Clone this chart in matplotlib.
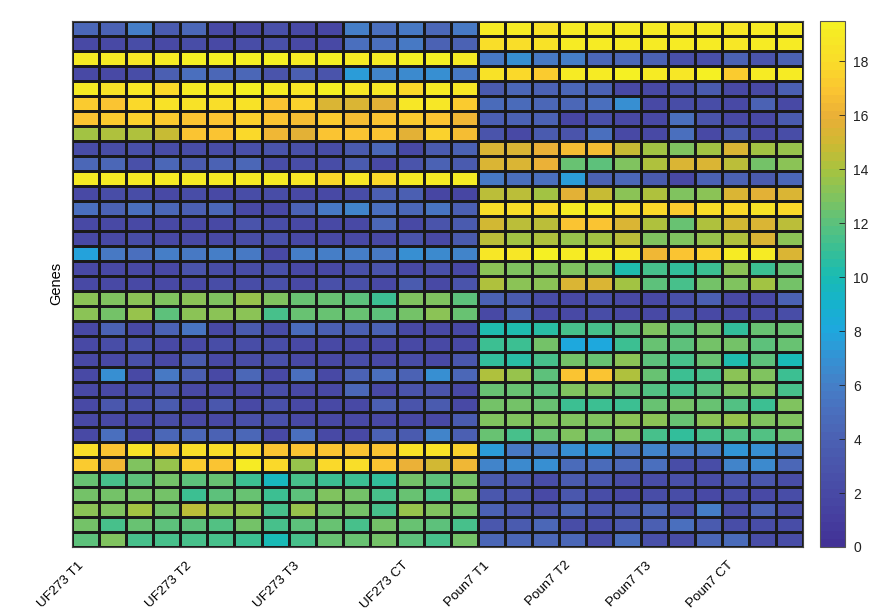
import numpy as np
import matplotlib
matplotlib.use("Agg")
import matplotlib.pyplot as plt
from matplotlib.colors import LinearSegmentedColormap

plt.rcParams['font.family'] = ['Liberation Sans', 'DejaVu Sans']

# expression values, one list per gene (top to bottom)
uf273 = [
  [4.5, 4.2, 6, 3.5, 4.5, 2, 2, 2.5, 2, 1.8, 5.8, 5, 5.5, 4.3, 5.5],
  [2, 2, 2.2, 2, 2.2, 2, 2.2, 2.5, 2, 2, 5, 5, 5.5, 4, 4.2],
  [19, 19, 18.7, 19, 19.2, 19.2, 19.2, 19.2, 19, 19.2, 19, 19, 19.2, 19.2, 19],
  [2, 2, 2.2, 3.8, 5, 4.3, 4.3, 3, 3.8, 3, 7.5, 6.2, 6.5, 6.8, 5.5],
  [19, 18.5, 18.8, 17.8, 19, 19, 19.2, 19, 18.8, 19.2, 18.8, 18.8, 17.8, 19, 18.8],
  [17.2, 16.8, 17.8, 18.5, 18.3, 18, 18.3, 16.8, 17.5, 15.5, 15.5, 15.8, 18.8, 18.8, 17.2],
  [17, 17.2, 17.5, 17.2, 17, 17, 17.5, 16.8, 16.5, 17.2, 16.5, 17, 17.3, 16.8, 16.3],
  [14, 14.3, 14.3, 14.8, 17, 16.8, 17.8, 16.2, 15.8, 16.8, 16.8, 16.8, 15.6, 17.5, 16.7],
  [2.2, 2.2, 2.5, 2.2, 2.2, 2.2, 2.5, 3, 2.5, 2.2, 3.5, 4.5, 2, 3.5, 4],
  [4.5, 4.5, 2.5, 4.5, 3.5, 4, 4.5, 2.2, 2.2, 2.2, 3.5, 2, 3, 4, 3.5],
  [19, 19, 19, 19, 19, 19, 19, 19, 18.7, 17.8, 18.8, 17.8, 19, 19, 19],
  [2, 2.2, 2.3, 2, 2.2, 2, 2.3, 2.3, 2, 2, 2.3, 3.8, 3.8, 1.8, 1.8],
  [5, 4, 5, 4.3, 3.8, 4.5, 2, 2, 4, 5.5, 6.2, 5, 4.3, 5.3, 3.8],
  [2, 2, 2, 2, 2, 2, 3, 2.3, 2, 2, 2, 4.5, 2, 3, 3.5],
  [2, 2, 2.2, 2, 2, 2, 2.2, 2.5, 2, 2, 2, 2, 3, 2, 3.5],
  [7.8, 5.5, 5, 5.8, 5.5, 5.8, 5.5, 2, 5.8, 6, 6, 5.5, 6.8, 6.5, 6.2],
  [2, 2, 2, 2, 3, 2.2, 2.2, 2.5, 2, 2, 2.5, 3, 2, 2.5, 2],
  [2, 2, 2, 2, 2, 2.2, 2.2, 2.5, 2, 2.5, 2.5, 2, 3.5, 2, 3],
  [13.3, 12.8, 13.2, 13, 13.2, 13, 13.5, 13, 12.3, 12.3, 12, 11, 13, 13, 12],
  [13.3, 12.5, 13.5, 12, 13.2, 13.3, 13.3, 11.5, 12.3, 12.3, 12.3, 12, 12.5, 13.3, 12.3],
  [2, 4, 2, 4, 5.3, 2, 3.5, 2.3, 4.8, 3.8, 3.8, 4, 2, 2, 2],
  [2, 2.2, 2.5, 2, 2, 2.2, 2.2, 2.3, 2, 2, 2, 2, 2, 2, 2],
  [2, 2, 2.5, 2, 3.5, 2, 2.2, 2.5, 2, 2, 2.2, 2, 2.2, 2, 3.3],
  [2, 7, 2, 5.5, 3.8, 2, 4.5, 2, 5, 2, 4, 5, 4, 6.8, 4.5],
  [2, 2, 2.2, 3, 2, 2, 2, 2.3, 2, 2, 4.3, 2, 3, 3, 2],
  [2, 3.2, 2.5, 3.5, 2, 3.2, 2, 2.5, 2, 2, 2, 3.8, 3, 3.5, 2],
  [2, 2, 2, 2.2, 2, 2, 2.5, 2.5, 2, 2, 2, 2, 2, 2, 3.5],
  [2, 5, 2, 4.5, 4.5, 4, 4.5, 2, 5, 2, 2, 4, 3.5, 6.3, 3.8],
  [18, 17, 18.3, 17.2, 18, 18.2, 17.8, 17, 17, 17, 16.8, 17, 18.3, 18.3, 17.5],
  [17.2, 16.2, 12.8, 13.5, 17.3, 17, 19, 17.8, 13.5, 17.8, 18, 17, 16, 15.2, 16.2],
  [12.2, 11.3, 12, 12.7, 12, 12.2, 11, 9.5, 11.3, 11, 11, 10.8, 12.7, 12, 12.7],
  [12.5, 12.5, 12.5, 12.7, 11.2, 12, 12.2, 11, 12, 13, 12.7, 11.5, 12.3, 11.5, 12.8],
  [13.3, 12.8, 13.8, 12.7, 14.5, 13.5, 13.5, 11.3, 13.5, 12.5, 12.5, 11.5, 13.5, 12.8, 12.7],
  [12.5, 11.3, 12.3, 12, 12, 11.8, 12.5, 11.3, 12, 12.3, 11.5, 12.5, 12.3, 12, 11.3],
  [12, 13, 11.5, 11.5, 11.5, 11.3, 11, 10, 11.5, 12.2, 12.2, 12.5, 12, 11.5, 12.5],
]

poun7 = [
  [19, 19, 18.5, 19, 19, 19, 19, 18.8, 19, 18.7, 19, 19],
  [18, 18, 18.5, 19, 19, 19, 19, 19, 19, 18.7, 19, 19],
  [5.5, 6.8, 5.5, 6, 4.5, 4.5, 4, 2.5, 2.5, 4, 2.8, 4],
  [18.5, 17.8, 17.3, 19, 19, 19.2, 19, 18.8, 19.2, 17.2, 19, 19],
  [3.5, 4.5, 4, 4.5, 4, 2, 2, 2.5, 3.5, 2, 2, 3.8],
  [4.8, 4.8, 4.5, 4.5, 5, 6.8, 2, 2.2, 2.2, 2, 4.2, 2],
  [3.8, 4, 4, 1.8, 2.5, 2, 2, 5, 3, 2, 2, 3.5],
  [3, 2, 3.5, 3, 5, 2, 2, 5, 2, 3.5, 2, 2.2],
  [15.5, 15.5, 16, 16.5, 16.5, 14.8, 14, 13, 14, 15.3, 14, 13.5],
  [15.3, 15.3, 16, 12.3, 12, 13, 14.3, 15.5, 15.5, 14.5, 12.5, 13.2],
  [5.5, 5, 5, 7.5, 4, 4.5, 3.5, 2, 4, 4, 3.5, 4.3],
  [14.5, 14.5, 14, 15.8, 14.8, 13.2, 14.2, 12.8, 13.2, 15.3, 15.8, 15.3],
  [18, 18, 17.8, 19, 19, 18, 17.8, 17.2, 18.2, 17.8, 18.5, 17.8],
  [15, 14.5, 14.5, 16.8, 16.8, 15.3, 14.3, 12.2, 14.3, 15, 15.5, 14.5],
  [14.5, 14, 14.3, 13.5, 13.8, 14.5, 13, 13, 13.5, 14.3, 15.5, 13.2],
  [18.8, 18.8, 19.2, 19, 19, 18.8, 16.3, 16.8, 17.5, 19, 19, 15.5],
  [13.3, 12.8, 12.8, 12.8, 12.5, 10.2, 11.5, 10.8, 11.2, 13.2, 11, 12.3],
  [14.2, 13.3, 13.3, 15.5, 15.5, 13.8, 12, 11.5, 12.5, 13, 14, 12.5],
  [4, 3.5, 2.2, 2, 2.5, 2, 2, 2.5, 3.8, 2, 2, 4],
  [2, 4.2, 2, 2, 2.3, 2, 2, 2.5, 2, 2, 2, 2.2],
  [10.2, 10.2, 10.5, 11.3, 11.3, 12, 12.8, 12, 12.5, 10.8, 12.2, 12.2],
  [11, 11, 12.5, 8, 8, 11, 12.3, 12, 12.5, 12.5, 12, 12.3],
  [10.8, 10.5, 11.3, 12.5, 12.3, 13.2, 12, 11.5, 12.3, 10.3, 12, 10],
  [14.3, 13.5, 12, 17, 16.8, 14.3, 12.2, 11.2, 11.5, 13.2, 13, 11],
  [12.3, 12.3, 12, 13, 13, 12.3, 11.8, 11.3, 12, 12.8, 12.8, 11.3],
  [12.5, 12.5, 12.3, 11, 11, 11, 12.3, 12.5, 12.3, 11.8, 11, 13],
  [13, 13, 12.8, 12.8, 12.8, 13.2, 13.3, 12.3, 13.3, 13.5, 12.8, 12.8],
  [12.3, 11.3, 12.3, 12.8, 12.3, 12.8, 11.3, 10.8, 11.5, 11.8, 11.8, 12.3],
  [7.5, 5.5, 6, 7, 7.2, 5.5, 6.3, 6, 6, 7.2, 6.8, 5.5],
  [6.2, 6.5, 6.8, 4.8, 4.8, 4.5, 5, 2.2, 2.2, 6.2, 6.5, 4.5],
  [3.5, 3.3, 2.2, 3.5, 3.2, 2.2, 2.2, 2.5, 2.2, 3.2, 3.2, 2.2],
  [3.3, 3, 2, 3.2, 2.2, 2, 2.2, 2.3, 2, 2.3, 2, 2.2],
  [4, 3.3, 3, 4.5, 3.3, 3.5, 4.5, 2.5, 6, 2.3, 4, 2.3],
  [3.3, 3.5, 4.3, 2.2, 2.2, 3.3, 3.8, 5, 3.5, 2.2, 2.2, 2.2],
  [4.5, 4.5, 4.5, 4.3, 2.2, 5, 2.5, 2.2, 4.5, 4.8, 2.2, 2.2],
]

sample_labels = ['UF273 T1', 'UF273 T2', 'UF273 T3', 'UF273 CT',
                 'Poun7 T1', 'Poun7 T2', 'Poun7 T3', 'Poun7 CT']
label_columns = [1, 5, 9, 13, 16, 19, 22, 25]

data = np.hstack([np.array(uf273), np.array(poun7)])
n_rows, n_cols = data.shape

# parula-like colours as they look in the picture
stops = [0, 1, 2, 3, 4, 5, 6, 7, 8, 9, 10, 11, 12, 13, 14, 15, 16, 17, 18, 19.5]
rgb = [(66, 50, 150), (70, 63, 160), (72, 75, 166), (74, 86, 172), (75, 98, 180),
       (74, 112, 190), (68, 128, 200), (52, 147, 212), (30, 167, 222), (22, 178, 205),
       (25, 187, 180), (55, 191, 150), (90, 193, 125), (128, 195, 95), (165, 195, 65),
       (205, 186, 50), (233, 175, 55), (250, 195, 50), (250, 218, 42), (245, 240, 35)]
cmap = LinearSegmentedColormap.from_list(
  'parula_ish', [(s / 19.5, tuple(c / 255 for c in col)) for s, col in zip(stops, rgb)], N=64)

fig = plt.figure(figsize=(8.87, 6.15), dpi=100)
ax = fig.add_axes([0.0812, 0.1106, 0.8241, 0.8557])
cax = fig.add_axes([0.9245, 0.1106, 0.0282, 0.8557])

xe = np.arange(n_cols + 1) + 0.5
ye = np.arange(n_rows + 1) + 0.5
mesh = ax.pcolormesh(xe, ye, data, cmap=cmap, vmin=0, vmax=19.5,
                     edgecolors='#1a1a1a', linewidth=0.75)
ax.set_xlim(0.5, n_cols + 0.5)
ax.set_ylim(n_rows + 0.5, 0.5)

ax.set_xticks(label_columns)
ax.set_xticklabels(sample_labels, rotation=45, ha='right', va='bottom',
                   rotation_mode='anchor', fontsize=9.6)
ax.set_yticks([])
ax.tick_params(axis='x', length=0, pad=15)
ax.set_ylabel('Genes', fontsize=10.5, labelpad=6)
for sp in ax.spines.values():
  sp.set_color('#444444')
  sp.set_linewidth(0.8)

cb = fig.colorbar(mesh, cax=cax, ticks=np.arange(0, 19, 2))
cb.ax.tick_params(direction='in', length=4, width=0.6, labelsize=10, colors='#222222', pad=6)
cb.outline.set_edgecolor('#555555')
cb.outline.set_linewidth(0.8)

fig.savefig('out.png', dpi=100)
